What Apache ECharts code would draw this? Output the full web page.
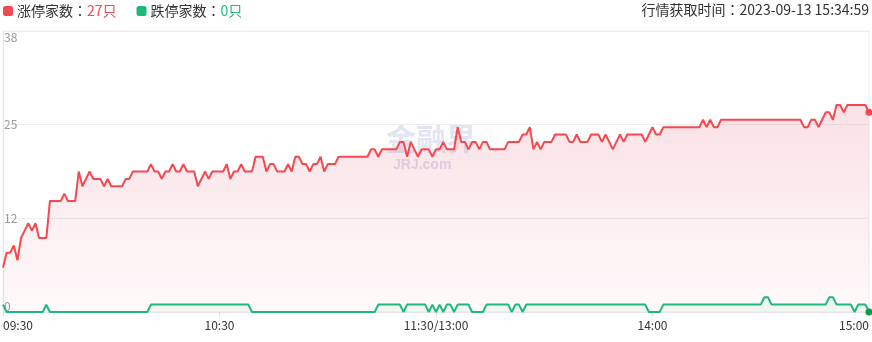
<!DOCTYPE html>
<html>
<head>
<meta charset="utf-8">
<script src="https://cdn.jsdelivr.net/npm/echarts@6/dist/echarts.min.js"></script>
<style>
html,body{margin:0;padding:0;background:#fff;}
#chart{width:872px;height:342px;}
</style>
</head>
<body>
<div id="chart"></div>
<script>
// ---- data ----
const seriesNames = ['涨停家数', '跌停家数'];
const updateTime = '2023-09-13 15:34:59';
const tickLabels = ['09:30', '10:30', '11:30/13:00', '14:00', '15:00'];
const yMax = 38;

// per-minute time categories 09:30–11:30, 13:01–15:00
const categories = [];
for (let m = 9 * 60 + 30; m <= 11 * 60 + 30; m++) {
  categories.push(String(Math.floor(m / 60)).padStart(2, '0') + ':' + String(m % 60).padStart(2, '0'));
}
for (let m = 13 * 60 + 1; m <= 15 * 60; m++) {
  categories.push(String(Math.floor(m / 60)).padStart(2, '0') + ':' + String(m % 60).padStart(2, '0'));
}
categories[120] = '11:30/13:00';

const limitUp = [
  6,8,8,9,7,10,11,12,11,12,
  10,10,10,15,15,15,15,16,15,15,
  15,19,17,18,19,18,18,18,17,18,
  17,17,17,17,18,18,19,19,19,19,
  19,20,19,19,18,19,19,20,19,19,
  20,19,19,19,17,18,19,18,19,19,
  19,19,20,18,19,19,20,19,19,19,
  21,21,21,19,20,20,19,19,19,20,
  19,21,21,20,20,19,20,20,21,19,
  20,20,20,21,21,21,21,21,21,21,
  21,21,22,22,21,22,22,22,22,22,
  23,23,21,23,22,21,22,22,22,21,
  22,22,23,22,22,22,25,23,23,22,
  23,23,22,23,23,22,22,22,22,22,
  23,23,23,23,24,24,25,22,23,22,
  23,23,23,24,24,24,24,23,23,24,
  23,23,23,24,24,24,23,24,23,22,
  23,24,23,24,24,24,24,24,23,24,
  25,24,24,25,25,25,25,25,25,25,
  25,25,25,25,26,25,26,25,25,26,
  26,26,26,26,26,26,26,26,26,26,
  26,26,26,26,26,26,26,26,26,26,
  26,26,25,25,26,26,25,26,27,27,
  26,28,28,27,28,28,28,28,28,28,
  27
];

const limitDown = [
  1,0,0,0,0,0,0,0,0,0,
  0,0,1,0,0,0,0,0,0,0,
  0,0,0,0,0,0,0,0,0,0,
  0,0,0,0,0,0,0,0,0,0,
  0,1,1,1,1,1,1,1,1,1,
  1,1,1,1,1,1,1,1,1,1,
  1,1,1,1,1,1,1,1,1,0,
  0,0,0,0,0,0,0,0,0,0,
  0,0,0,0,0,0,0,0,0,0,
  0,0,0,0,0,0,0,0,0,0,
  0,0,0,0,1,1,1,1,1,1,
  1,0,1,1,1,1,1,1,0,1,
  0,1,0,1,1,0,1,1,1,1,
  0,0,0,0,1,1,1,1,1,1,
  1,0,1,1,0,1,1,1,1,1,
  1,1,1,1,1,1,1,1,1,1,
  1,1,1,1,1,1,1,1,1,1,
  1,1,1,1,1,1,1,1,1,0,
  0,0,0,1,1,1,1,1,1,1,
  1,1,1,1,1,1,1,1,1,1,
  1,1,1,1,1,1,1,1,1,1,
  1,2,2,1,1,1,1,1,1,1,
  1,1,1,1,1,1,1,1,1,2,
  2,1,1,1,1,1,0,1,1,1,
  0
];

// ---- chart ----
const RED = '#f5484f';
const GREEN = '#1eb97a';
const FONT = "'Noto Sans CJK SC', sans-serif";
const HFONT = "'Noto Sans CJK JP', 'Noto Sans CJK SC', sans-serif";
const lastUp = limitUp[limitUp.length - 1];
const lastDown = limitDown[limitDown.length - 1];

const chart = echarts.init(document.getElementById('chart'), null, {renderer: 'canvas'});
chart.setOption({
  animation: false,
  textStyle: {fontFamily: FONT},
  title: {
    text: '行情获取时间：' + updateTime,
    right: 3, top: 3, padding: 0,
    textStyle: {fontSize: 14, fontWeight: 'normal', color: '#333', fontFamily: HFONT}
  },
  legend: {
    left: 3, top: 4, padding: 0,
    icon: 'roundRect', itemWidth: 10, itemHeight: 10, itemGap: 20,
    data: [
      {name: seriesNames[0], itemStyle: {color: RED}},
      {name: seriesNames[1], itemStyle: {color: GREEN}}
    ],
    formatter: function (name) {
      return name === seriesNames[0]
        ? name + '：{up|' + lastUp + '只}'
        : name + '：{down|' + lastDown + '只}';
    },
    textStyle: {
      fontSize: 14, color: '#333', fontFamily: HFONT, padding: [0, 0, 0, -1],
      rich: {
        up: {color: RED, fontSize: 14, fontFamily: HFONT},
        down: {color: GREEN, fontSize: 14, fontFamily: HFONT}
      }
    }
  },
  grid: {left: 2, right: 2, top: 31, bottom: 30, show: true, borderColor: '#eeeeee', borderWidth: 1},
  xAxis: {
    type: 'category',
    boundaryGap: false,
    data: categories,
    axisLine: {show: true, lineStyle: {color: '#e6e6e6'}},
    axisTick: {
      show: true, length: 4, lineStyle: {color: '#dddddd'},
      interval: function (idx, val) { return tickLabels.indexOf(val) >= 0; }
    },
    axisLabel: {
      interval: function (idx, val) { return tickLabels.indexOf(val) >= 0; },
      color: '#333', fontSize: 12, margin: 7, fontFamily: FONT,
      alignMinLabel: 'left', alignMaxLabel: 'right'
    },
    splitLine: {show: false}
  },
  yAxis: {
    type: 'value',
    min: 0, max: yMax, interval: yMax / 3,
    axisLine: {show: true, lineStyle: {color: '#e6e6e6'}},
    axisTick: {show: false},
    axisLabel: {
      inside: true, margin: 1, color: '#999', fontSize: 12, fontFamily: FONT,
      verticalAlignMaxLabel: 'top', verticalAlignMinLabel: 'bottom',
      formatter: function (v) { return String(Math.floor(v + 1e-6)); }
    },
    splitLine: {show: true, lineStyle: {color: '#eeeeee'}}
  },
  graphic: [
    {type: 'text', left: 386, top: 124, silent: true, z: 0,
     style: {text: '金融界', fontSize: 30, fontWeight: 'bold', fill: 'rgba(165,175,215,0.32)', fontFamily: FONT}},
    {type: 'text', left: 393, top: 158, silent: true, z: 0,
     style: {text: 'JRJ.com', fontSize: 14, fontWeight: 'bold', fill: 'rgba(165,175,215,0.4)', fontFamily: 'Liberation Sans'}}
  ],
  series: [
    {
      name: seriesNames[0], type: 'line', data: limitUp,
      showSymbol: true, symbol: 'circle',
      symbolSize: function (v, p) { return p.dataIndex === limitUp.length - 1 ? 7 : 0; },
      itemStyle: {color: RED},
      lineStyle: {color: RED, width: 2},
      areaStyle: {
        color: new echarts.graphic.LinearGradient(0, 0, 0, 1, [
          {offset: 0, color: 'rgba(222,60,90,0.22)'},
          {offset: 1, color: 'rgba(222,60,90,0.04)'}
        ])
      },
      z: 3
    },
    {
      name: seriesNames[1], type: 'line', data: limitDown,
      showSymbol: true, symbol: 'circle',
      symbolSize: function (v, p) { return p.dataIndex === limitDown.length - 1 ? 7 : 0; },
      itemStyle: {color: '#179a45'},
      lineStyle: {color: GREEN, width: 2},
      areaStyle: {color: 'rgba(30,185,122,0.08)'},
      z: 4
    }
  ]
});
</script>
</body>
</html>
